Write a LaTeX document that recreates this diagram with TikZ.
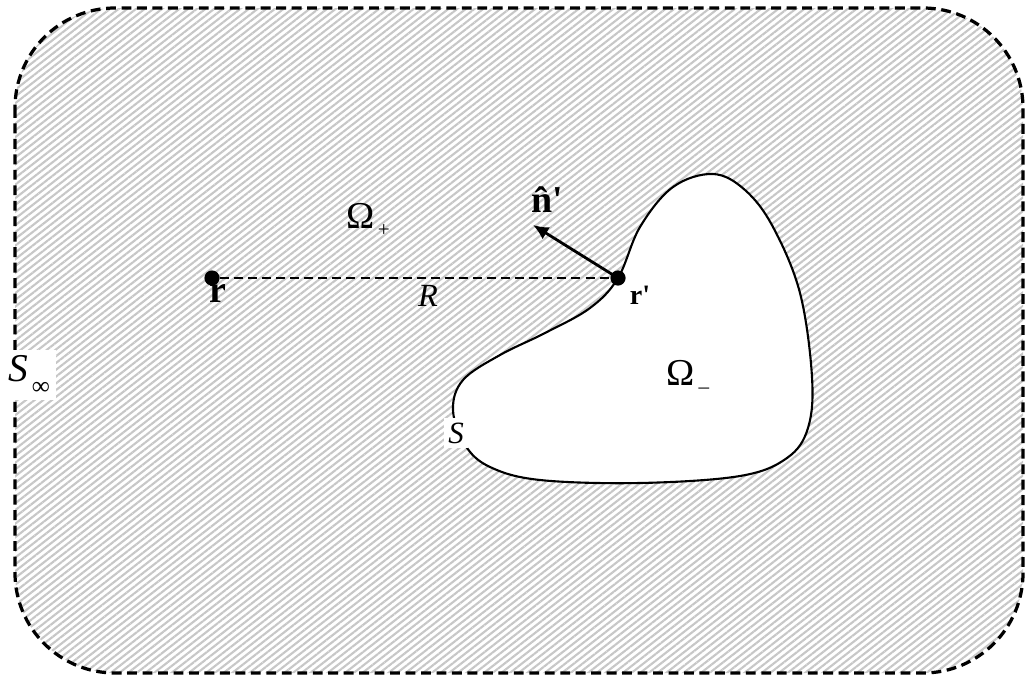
\documentclass[tikz,border=0pt]{standalone}
\usepackage{fontspec}
\setmainfont{Liberation Serif}
\usetikzlibrary{patterns.meta,arrows.meta}

\tikzset{
  ponto/.style={circle,fill=black,inner sep=0pt,minimum size=0.38cm},
  rotulo/.style={font=\fontsize{22}{24}\selectfont,inner sep=1pt},
  caixa/.style={rotulo,fill=white,inner sep=3pt}
}

\begin{document}
\begin{tikzpicture}[x=0.025cm,y=-0.025cm]
			\useasboundingbox (0,0) rectangle (1027,678);
			
			% Região exterior hachurada
			\fill[pattern={Lines[angle=38,distance=3.8pt,line width=1.5pt]},pattern color=black!22]
				(15,8) [rounded corners=2.5cm] rectangle (1023,673);
			
			% Curva fechada S
			\path[fill=white,draw=black,line width=1.5pt] plot[smooth cycle,tension=0.6] coordinates {
				(618,278) (640,227) (673,187) (713,174) (745,190) (773,227) (800,293)
				(812,377) (808,428) (787,458) (740,476) (640,483) (540,480) (490,467)
				(465,445) (453,410) (463,380) (500,355) (545,333) (590,308)};
			
			% Superfície no infinito
			\draw[line width=2.3pt,dash pattern=on 7pt off 4pt,rounded corners=2.5cm]
				(15,8) rectangle (1023,673);
			
			% Pontos r e r'
			\node[ponto] (r) at (212,278) {};
			\node[ponto] (rp) at (618,278) {};
			\coordinate (ntip) at (533,225);
			
			% Distância R e normal
			\draw[line width=1.8pt,dash pattern=on 6.4pt off 3.6pt] (r) -- (rp);
			\draw[line width=2pt,-{Latex[length=11pt,width=10pt]}] (rp.center) -- (ntip);
			
			% Rótulos
			\node[rotulo,font=\fontsize{27}{29}\selectfont\bfseries] at (218,294) {r};
			\node[rotulo,font=\fontsize{20}{22}\selectfont\bfseries] at (640,295) {r\textquotesingle};
			\node[rotulo,font=\fontsize{27}{29}\selectfont\bfseries] at (547,200) {n̂\textquotesingle};
			\node[rotulo,font=\fontsize{23}{25}\selectfont] at (428,296) {\itshape R};
			\node[rotulo,font=\fontsize{27}{29}\selectfont] at (368,220) {Ω\raisebox{-0.45ex}{\fontsize{15}{16}\selectfont\,+}};
			\node[rotulo,font=\fontsize{27}{29}\selectfont] at (688,377) {Ω\raisebox{-0.45ex}{\fontsize{15}{16}\selectfont\,–}};
			\node[caixa] at (456,433) {\itshape S};
			\node[caixa,font=\fontsize{28}{30}\selectfont,inner sep=4pt] at (29,375) {\itshape S\raisebox{-0.7ex}{\fontsize{18}{20}\selectfont\upshape\,∞}};
		\end{tikzpicture}
\end{document}
